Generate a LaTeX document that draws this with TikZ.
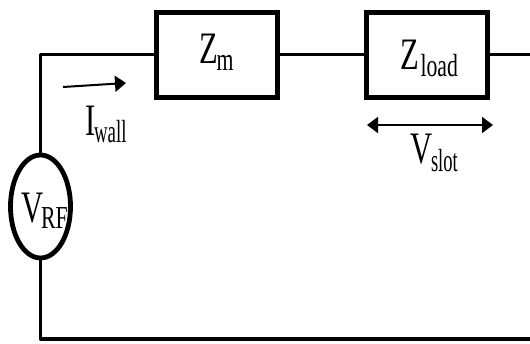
\documentclass[tikz,border=0pt]{standalone}
\usepackage{fontspec}
\setmainfont{Liberation Serif}
\usetikzlibrary{arrows.meta,shapes.geometric}
\tikzset{
 wire/.style={line width=3.2pt,line cap=round,line join=round},
 boxnode/.style={draw,line width=5pt,minimum width=120.5pt,minimum height=85pt,inner sep=0pt,outer sep=0pt},
 lab/.style={inner sep=0pt,outer sep=0pt,anchor=base west},
 arr/.style={line width=2pt,-{Triangle[length=11pt,width=16pt]}},
 darr/.style={line width=2pt,{Triangle[length=11pt,width=16pt]}-{Triangle[length=11pt,width=16pt]}}
}
\newcommand{\mainlet}[1]{\scalebox{0.68}[1]{\fontsize{45}{47}\selectfont #1}}
\newcommand{\sublet}[2][0.68]{\scalebox{#1}[1]{\fontsize{32}{34}\selectfont #2}}
\begin{document}
\begin{tikzpicture}[x=1pt,y=-1pt]
\useasboundingbox (0,0) rectangle (530,343);
\node[boxnode] (zm) at (217,54.5) {};
\node[boxnode] (zl) at (427,54.5) {};
\node[draw,ellipse,line width=4.8pt,minimum width=60pt,minimum height=103pt,inner sep=0pt,outer sep=0pt] (v) at (40.5,206.5) {};
\coordinate (rtop) at (530,54.5);
\coordinate (rbot) at (530,339);
\coordinate (i1) at (63,87);
\coordinate (i2) at (126,83);
\coordinate (v1) at (367,125);
\coordinate (v2) at (493,125);
\draw[wire] (v.north) |- (zm.west);
\draw[wire] (zm.east) -- (zl.west);
\draw[wire] (zl.east) -- (rtop);
\draw[wire] (v.south) |- (rbot);
\draw[arr] (i1) -- (i2);
\draw[darr] (v1) -- (v2);
\node[lab] (zmz) at (199,63) {\mainlet{Z}};
\node[lab] (zmm) at (216.5,70) {\sublet{m}};
\node[lab] (zlz) at (400,69) {\mainlet{Z}};
\node[lab] (zll) at (420.5,76) {\sublet{load}};
\node[lab] (iI) at (85,135) {\mainlet{I}};
\node[lab] (iw) at (94,142) {\sublet[0.59]{wall}};
\node[lab] (vv) at (410,163) {\mainlet{V}};
\node[lab] (vs) at (431,171) {\sublet[0.58]{slot}};
\node[lab] (rv) at (21,222) {\mainlet{V}};
\node[lab] (rr) at (41,228) {\sublet{RF}};
\end{tikzpicture}
\end{document}
